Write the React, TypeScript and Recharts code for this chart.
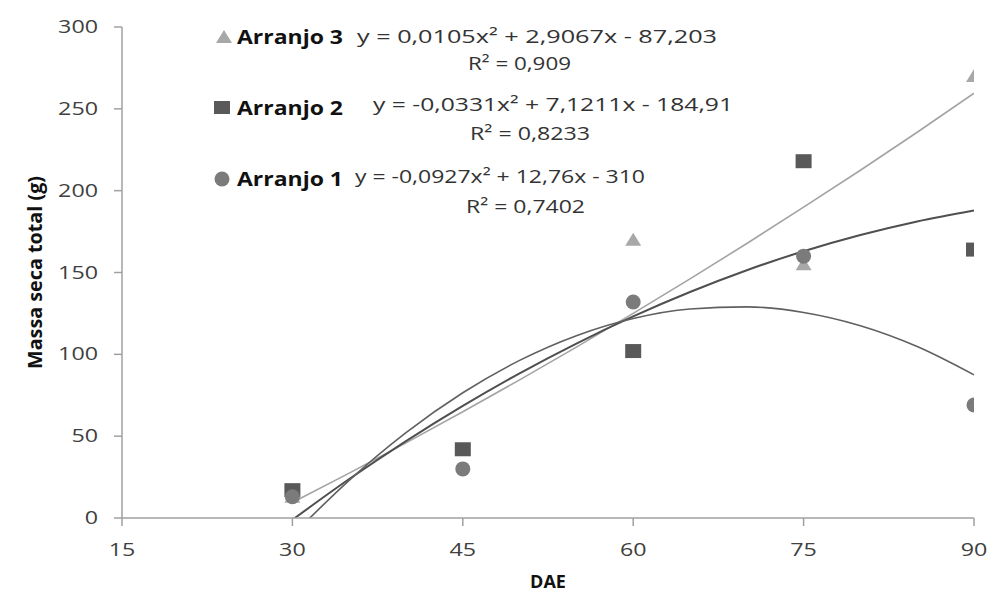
import {
  ComposedChart,
  Scatter,
  Line,
  XAxis,
  YAxis,
  Legend,
} from "recharts";

// DAE (dias após emergência)
const dae = [30, 45, 60, 75, 90];

// massa seca total (g), observed points
const arranjo1 = [13, 30, 132, 160, 69];
const arranjo2 = [17, 42, 102, 218, 164];
const arranjo3 = [13, 42, 170, 155, 270];

// trend line values
const fitX = [30, 35, 40, 45, 50, 55, 60, 65, 70, 75, 80, 85, 90];
const fit1 = [-10.6, 23.0, 52.1, 76.5, 96.3, 111.4, 121.9, 127.7, 129.0, 125.6, 117.5, 104.8, 87.5];
const fit2 = [-1.1, 23.8, 47.0, 68.5, 88.4, 106.6, 123.2, 138.1, 151.4, 163.0, 172.9, 181.2, 187.9];
const fit3 = [9.5, 27.4, 45.9, 64.9, 84.4, 104.4, 125.0, 146.1, 167.7, 189.9, 212.5, 235.7, 259.5];

const xTicks = [15, 30, 45, 60, 75, 90];
const yTicks = [0, 50, 100, 150, 200, 250, 300];

const FONT = "'Open Sans', sans-serif";
const C1 = "#7b7b7b";
const C2 = "#595959";
const C3 = "#a8a8a8";

const pts = (ys: number[]) => dae.map((x, i) => ({ x, y: ys[i] }));
const curve = (ys: number[]) => fitX.map((x, i) => ({ x, y: ys[i] }));

const Circle = (p: any) => <circle cx={p.cx} cy={p.cy} r={7.5} fill={C1} />;
const Square = (p: any) => (
  <rect x={p.cx - 8} y={p.cy - 7} width={16} height={14} fill={C2} />
);
const Triangle = (p: any) => (
  <polygon
    points={`${p.cx - 8},${p.cy + 6} ${p.cx + 8},${p.cy + 6} ${p.cx},${p.cy - 7}`}
    fill={C3}
  />
);

const Tick = (props: any) => {
  const { x, y, payload, anchor, dy } = props;
  const s = String(payload.value);
  return (
    <text
      x={x}
      y={y + dy}
      textAnchor={anchor}
      fill="#404040"
      fontFamily={FONT}
      fontSize={18}
      textLength={s.length * 13.3}
      lengthAdjust="spacingAndGlyphs"
    >
      {s}
    </text>
  );
};

const YLabel = ({ viewBox }: any) => {
  const cx = 35;
  const cy = viewBox.y + viewBox.height / 2;
  return (
    <text
      x={cx}
      y={cy}
      transform={`rotate(-90 ${cx} ${cy})`}
      textAnchor="middle"
      dominantBaseline="central"
      fontFamily={FONT}
      fontWeight="bold"
      fontSize={19}
      fill="#111"
      textLength={193}
      lengthAdjust="spacingAndGlyphs"
    >
      Massa seca total (g)
    </text>
  );
};

const XLabel = ({ viewBox }: any) => (
  <text
    x={viewBox.x + viewBox.width / 2}
    y={588}
    textAnchor="middle"
    fontFamily={FONT}
    fontWeight="bold"
    fontSize={18}
    fill="#111"
  >
    DAE
  </text>
);

const Eq = ({ x, y, len, children, bold }: any) => (
  <text
    x={x}
    y={y}
    fontFamily={FONT}
    fontSize={19}
    fontWeight={bold ? "bold" : "normal"}
    fill={bold ? "#111" : "#333"}
    textLength={len}
    lengthAdjust="spacingAndGlyphs"
  >
    {children}
  </text>
);

const renderLegend = () => (
  <svg width={992} height={230} style={{ display: "block" }}>
    <polygon points="216,43 232,43 224,30" fill={C3} />
    <Eq x={237} y={44} len={106} bold>Arranjo 3</Eq>
    <Eq x={357} y={43} len={360}>y = 0,0105x² + 2,9067x - 87,203</Eq>
    <Eq x={468} y={70} len={103}>R² = 0,909</Eq>

    <rect x={214} y={101} width={16} height={13} fill={C2} />
    <Eq x={237} y={115} len={106} bold>Arranjo 2</Eq>
    <Eq x={373} y={111} len={360}>y = -0,0331x² + 7,1211x - 184,91</Eq>
    <Eq x={470} y={140} len={120}>R² = 0,8233</Eq>

    <circle cx={222} cy={179} r={7.5} fill={C1} />
    <Eq x={237} y={186} len={106} bold>Arranjo 1</Eq>
    <Eq x={355} y={183} len={290}>y = -0,0927x² + 12,76x - 310</Eq>
    <Eq x={466} y={213} len={119}>R² = 0,7402</Eq>
  </svg>
);

export default function App() {
  return (
    <div style={{ position: "absolute", left: 0, top: 0, background: "#fff" }}>
      <ComposedChart
        width={992}
        height={594}
        margin={{ top: 27, right: 18, left: 22, bottom: 36 }}
      >
        <XAxis
          type="number"
          dataKey="x"
          domain={[15, 90]}
          ticks={xTicks}
          allowDataOverflow
          height={40}
          stroke="#a0a0a0"
          strokeWidth={1.5}
          tickSize={8}
          tick={<Tick anchor="middle" dy={28} />}
          label={<XLabel />}
        />
        <YAxis
          type="number"
          dataKey="y"
          domain={[0, 300]}
          ticks={yTicks}
          allowDataOverflow
          width={100}
          stroke="#a0a0a0"
          strokeWidth={1.5}
          tickSize={8}
          tickMargin={16}
          tick={<Tick anchor="end" dy={6} />}
          label={<YLabel />}
        />
        <Legend
          layout="vertical"
          align="center"
          verticalAlign="middle"
          content={renderLegend}
          wrapperStyle={{ left: 0, top: 0, width: 992, height: 230 }}
        />
        <Line
          data={curve(fit3)}
          dataKey="y"
          type="monotone"
          stroke="#a3a3a3"
          strokeWidth={1.6}
          dot={false}
          activeDot={false}
          legendType="none"
          isAnimationActive={false}
        />
        <Line
          data={curve(fit2)}
          dataKey="y"
          type="monotone"
          stroke="#4f4f4f"
          strokeWidth={2}
          dot={false}
          activeDot={false}
          legendType="none"
          isAnimationActive={false}
        />
        <Line
          data={curve(fit1)}
          dataKey="y"
          type="monotone"
          stroke="#606060"
          strokeWidth={1.6}
          dot={false}
          activeDot={false}
          legendType="none"
          isAnimationActive={false}
        />
        <Scatter data={pts(arranjo3)} shape={<Triangle />} isAnimationActive={false} />
        <Scatter data={pts(arranjo2)} shape={<Square />} isAnimationActive={false} />
        <Scatter data={pts(arranjo1)} shape={<Circle />} isAnimationActive={false} />
      </ComposedChart>
    </div>
  );
}
